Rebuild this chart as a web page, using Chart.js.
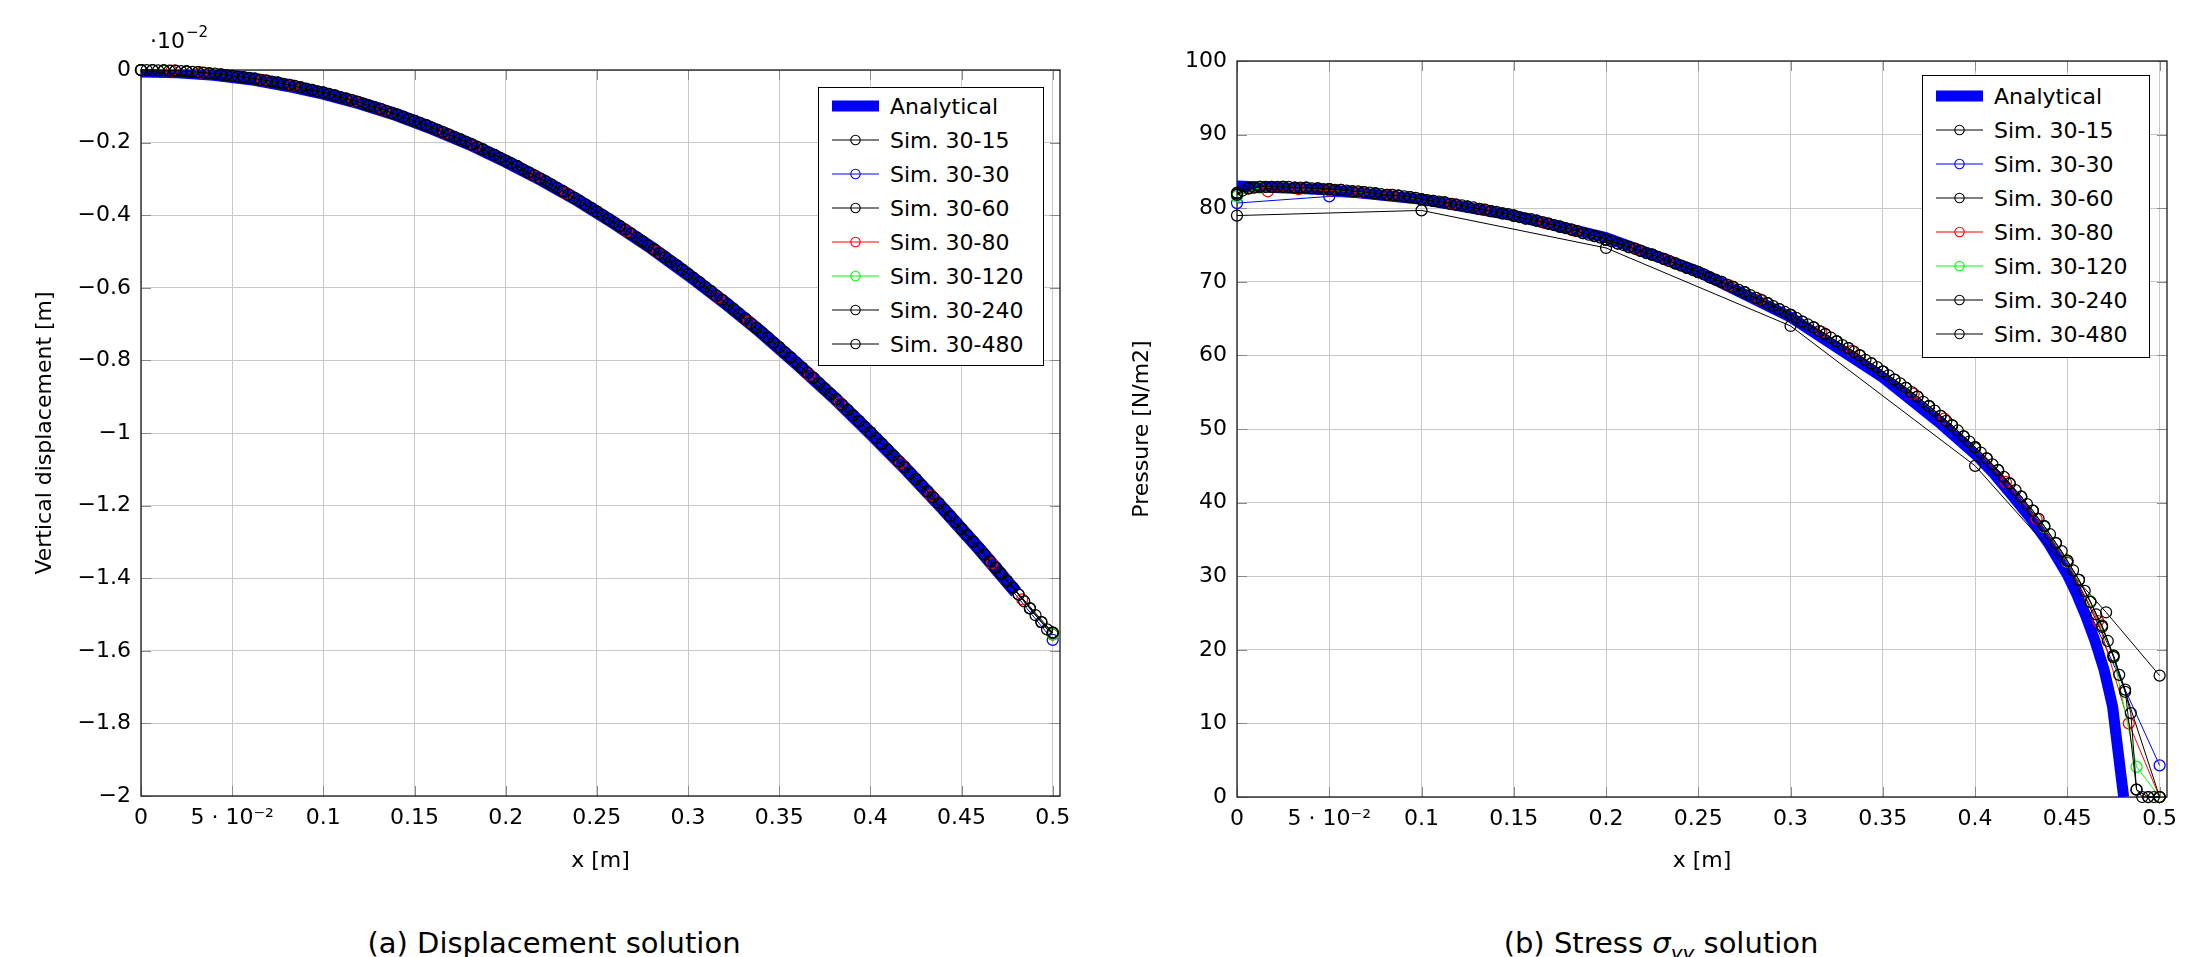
<!DOCTYPE html>
<html>
<head>
<meta charset="utf-8">
<title>Displacement and stress solution</title>
<script src="https://cdn.jsdelivr.net/npm/chart.js@4.4.1/dist/chart.umd.min.js"></script>
<style>
  body { margin: 0; background: #fff; width: 2200px; height: 957px; position: relative; overflow: hidden; font-family: "DejaVu Sans", sans-serif; }
  canvas { position: absolute; top: 0; }
  .legend { position: absolute; border: 1px solid #000; background: #fff; box-sizing: border-box; }
  .legend .row { height: 34px; display: flex; align-items: center; font-size: 22px; color: #000; white-space: nowrap; }
  .legend svg { margin-left: 13px; margin-right: 11px; flex: none; }
  .caption { position: absolute; top: 926px; font-size: 29px; transform: translateX(-50%); white-space: nowrap; color: #000; }
  .caption sub { font-size: 20px; }
</style>
</head>
<body>
<canvas id="disp" width="1100" height="880" style="left:0"></canvas>
<canvas id="press" width="1100" height="880" style="left:1100px"></canvas>
<div class="legend" id="legDisp" style="left:818px; top:87px; width:226px; height:279px; padding-top:1px"></div>
<div class="legend" id="legPress" style="left:1922px; top:75px; width:228px; height:283px; padding-top:3px"></div>
<div class="caption" style="left:554px">(a) Displacement solution</div>
<div class="caption" style="left:1661px">(b) Stress <i>σ</i><sub><i>yy</i></sub> solution</div>

<script>
// series names / colours
const simNames = ['Sim. 30-15', 'Sim. 30-30', 'Sim. 30-60', 'Sim. 30-80', 'Sim. 30-120', 'Sim. 30-240', 'Sim. 30-480'];
const simColors = ['#000000', '#0000ff', '#000000', '#ff0000', '#00ff00', '#000000', '#000000'];

// node positions x [m] of each mesh
const xS15 = [0, 0.1, 0.2, 0.3, 0.4, 0.471, 0.5];
const xS30 = [0, 0.05, 0.1, 0.15, 0.2, 0.25, 0.3, 0.35, 0.4, 0.45, 0.5];
const xS60 = [0, 0.025, 0.05, 0.075, 0.1, 0.125, 0.15, 0.175, 0.2, 0.225, 0.25, 0.275, 0.3, 0.325, 0.35, 0.375, 0.4, 0.425, 0.45, 0.475, 0.5];
const xS80 = [0, 0.0167, 0.0333, 0.05, 0.0667, 0.0833, 0.1, 0.1167, 0.1333, 0.15, 0.1667, 0.1833, 0.2, 0.2167, 0.2333, 0.25,
  0.2667, 0.2833, 0.3, 0.3167, 0.3333, 0.35, 0.3667, 0.3833, 0.4, 0.4167, 0.4333, 0.45, 0.4667, 0.4833, 0.5];
const xS120 = [0, 0.0125, 0.025, 0.0375, 0.05, 0.0625, 0.075, 0.0875, 0.1, 0.1125, 0.125, 0.1375, 0.15, 0.1625, 0.175, 0.1875,
  0.2, 0.2125, 0.225, 0.2375, 0.25, 0.2625, 0.275, 0.2875, 0.3, 0.3125, 0.325, 0.3375, 0.35, 0.3625, 0.375, 0.3875,
  0.4, 0.4125, 0.425, 0.4375, 0.45, 0.4625, 0.475, 0.4875, 0.5];
const xS240 = [0, 0.0063, 0.0125, 0.0188, 0.025, 0.0313, 0.0375, 0.0438,
  0.05, 0.0563, 0.0625, 0.0688, 0.075, 0.0813, 0.0875, 0.0938,
  0.1, 0.1063, 0.1125, 0.1188, 0.125, 0.1313, 0.1375, 0.1438,
  0.15, 0.1563, 0.1625, 0.1688, 0.175, 0.1813, 0.1875, 0.1938,
  0.2, 0.2063, 0.2125, 0.2188, 0.225, 0.2313, 0.2375, 0.2438,
  0.25, 0.2563, 0.2625, 0.2688, 0.275, 0.2813, 0.2875, 0.2938,
  0.3, 0.3063, 0.3125, 0.3188, 0.325, 0.3313, 0.3375, 0.3438,
  0.35, 0.3563, 0.3625, 0.3688, 0.375, 0.3813, 0.3875, 0.3938,
  0.4, 0.4063, 0.4125, 0.4188, 0.425, 0.4313, 0.4375, 0.4438,
  0.45, 0.4563, 0.4625, 0.4688, 0.475, 0.4813, 0.4875, 0.4938,
  0.5];
const xS480 = [0, 0.0031, 0.0063, 0.0094, 0.0125, 0.0156, 0.0188, 0.0219,
  0.025, 0.0281, 0.0313, 0.0344, 0.0375, 0.0406, 0.0438, 0.0469,
  0.05, 0.0531, 0.0563, 0.0594, 0.0625, 0.0656, 0.0688, 0.0719,
  0.075, 0.0781, 0.0813, 0.0844, 0.0875, 0.0906, 0.0938, 0.0969,
  0.1, 0.1031, 0.1063, 0.1094, 0.1125, 0.1156, 0.1188, 0.1219,
  0.125, 0.1281, 0.1313, 0.1344, 0.1375, 0.1406, 0.1438, 0.1469,
  0.15, 0.1531, 0.1563, 0.1594, 0.1625, 0.1656, 0.1688, 0.1719,
  0.175, 0.1781, 0.1813, 0.1844, 0.1875, 0.1906, 0.1938, 0.1969,
  0.2, 0.2031, 0.2063, 0.2094, 0.2125, 0.2156, 0.2188, 0.2219,
  0.225, 0.2281, 0.2313, 0.2344, 0.2375, 0.2406, 0.2438, 0.2469,
  0.25, 0.2531, 0.2563, 0.2594, 0.2625, 0.2656, 0.2688, 0.2719,
  0.275, 0.2781, 0.2813, 0.2844, 0.2875, 0.2906, 0.2938, 0.2969,
  0.3, 0.3031, 0.3063, 0.3094, 0.3125, 0.3156, 0.3188, 0.3219,
  0.325, 0.3281, 0.3313, 0.3344, 0.3375, 0.3406, 0.3438, 0.3469,
  0.35, 0.3531, 0.3563, 0.3594, 0.3625, 0.3656, 0.3688, 0.3719,
  0.375, 0.3781, 0.3813, 0.3844, 0.3875, 0.3906, 0.3938, 0.3969,
  0.4, 0.4031, 0.4063, 0.4094, 0.4125, 0.4156, 0.4188, 0.4219,
  0.425, 0.4281, 0.4313, 0.4344, 0.4375, 0.4406, 0.4438, 0.4469,
  0.45, 0.4531, 0.4563, 0.4594, 0.4625, 0.4656, 0.4688, 0.4719,
  0.475, 0.4781, 0.4813, 0.4844, 0.4875, 0.4906, 0.4938, 0.4969,
  0.5];

// (a) vertical displacement, in units of 1e-2 m
const xAnaDisp = [0, 0.02, 0.04, 0.06, 0.08, 0.1, 0.12, 0.14, 0.16, 0.18, 0.2, 0.22, 0.24, 0.26, 0.28, 0.3, 0.32, 0.34, 0.36, 0.38, 0.4, 0.42, 0.44, 0.46, 0.48];
const anaDisp = [-0.003, -0.005, -0.012, -0.024, -0.042, -0.064, -0.091, -0.123, -0.161, -0.203, -0.251, -0.303, -0.360, -0.423, -0.490, -0.563, -0.640, -0.722, -0.810, -0.902, -1.0, -1.102, -1.209, -1.321, -1.439];
const dS15 = [0, -0.062, -0.250, -0.562, -0.998, -1.384, -1.55];
const dS30 = [0, -0.016, -0.062, -0.140, -0.250, -0.390, -0.562, -0.764, -0.998, -1.264, -1.57];
const dS60 = [0, -0.004, -0.016, -0.035, -0.062, -0.098, -0.140, -0.191, -0.250, -0.316, -0.390, -0.472, -0.562, -0.659, -0.764, -0.878, -0.998, -1.127, -1.264, -1.408, -1.555];
const dS80 = [0, -0.002, -0.007, -0.016, -0.028, -0.043, -0.062, -0.085, -0.111, -0.140, -0.173, -0.210, -0.250, -0.293, -0.340, -0.390,
  -0.444, -0.501, -0.562, -0.626, -0.693, -0.764, -0.839, -0.917, -0.998, -1.083, -1.172, -1.264, -1.359, -1.458, -1.555];
const dS120 = [0, -0.001, -0.004, -0.009, -0.016, -0.024, -0.035, -0.048, -0.062, -0.079, -0.098, -0.118, -0.140, -0.165, -0.191, -0.219,
  -0.250, -0.282, -0.316, -0.352, -0.390, -0.430, -0.472, -0.516, -0.562, -0.609, -0.659, -0.711, -0.764, -0.820, -0.878, -0.937,
  -0.998, -1.062, -1.127, -1.194, -1.264, -1.335, -1.408, -1.483, -1.555];
const dS240 = [0, 0, -0.001, -0.002, -0.004, -0.006, -0.009, -0.012,
  -0.016, -0.020, -0.024, -0.029, -0.035, -0.041, -0.048, -0.055,
  -0.062, -0.070, -0.079, -0.088, -0.098, -0.107, -0.118, -0.129,
  -0.140, -0.152, -0.165, -0.178, -0.191, -0.205, -0.219, -0.234,
  -0.250, -0.265, -0.282, -0.299, -0.316, -0.334, -0.352, -0.371,
  -0.390, -0.410, -0.430, -0.451, -0.472, -0.494, -0.516, -0.538,
  -0.562, -0.585, -0.609, -0.634, -0.659, -0.685, -0.711, -0.737,
  -0.764, -0.792, -0.820, -0.848, -0.878, -0.907, -0.937, -0.967,
  -0.998, -1.030, -1.062, -1.094, -1.127, -1.161, -1.194, -1.229,
  -1.264, -1.299, -1.335, -1.371, -1.408, -1.445, -1.483, -1.521,
  -1.55];
const dS480 = [0, 0, 0, -0.001, -0.001, -0.002, -0.002, -0.003,
  -0.004, -0.005, -0.006, -0.007, -0.009, -0.010, -0.012, -0.014,
  -0.016, -0.018, -0.020, -0.022, -0.024, -0.027, -0.029, -0.032,
  -0.035, -0.038, -0.041, -0.044, -0.048, -0.051, -0.055, -0.059,
  -0.062, -0.066, -0.070, -0.075, -0.079, -0.083, -0.088, -0.093,
  -0.098, -0.102, -0.107, -0.113, -0.118, -0.123, -0.129, -0.135,
  -0.140, -0.146, -0.152, -0.159, -0.165, -0.171, -0.178, -0.184,
  -0.191, -0.198, -0.205, -0.212, -0.219, -0.227, -0.234, -0.242,
  -0.250, -0.257, -0.265, -0.274, -0.282, -0.290, -0.299, -0.307,
  -0.316, -0.325, -0.334, -0.343, -0.352, -0.361, -0.371, -0.380,
  -0.390, -0.400, -0.410, -0.420, -0.430, -0.440, -0.451, -0.461,
  -0.472, -0.483, -0.494, -0.505, -0.516, -0.527, -0.538, -0.550,
  -0.562, -0.573, -0.585, -0.597, -0.609, -0.622, -0.634, -0.646,
  -0.659, -0.672, -0.685, -0.698, -0.711, -0.724, -0.737, -0.751,
  -0.764, -0.778, -0.792, -0.806, -0.820, -0.834, -0.848, -0.863,
  -0.878, -0.892, -0.907, -0.922, -0.937, -0.952, -0.967, -0.983,
  -0.998, -1.014, -1.030, -1.046, -1.062, -1.078, -1.094, -1.111,
  -1.127, -1.144, -1.161, -1.177, -1.194, -1.212, -1.229, -1.246,
  -1.264, -1.281, -1.299, -1.317, -1.335, -1.353, -1.371, -1.389,
  -1.408, -1.426, -1.445, -1.464, -1.483, -1.502, -1.521, -1.541,
  -1.55];

// (b) contact pressure [N/m2]
const xAnaPress = [0, 0.05, 0.1, 0.15, 0.2, 0.25, 0.3, 0.35, 0.38, 0.4, 0.41, 0.42, 0.43, 0.44, 0.45, 0.455, 0.46, 0.465, 0.47, 0.4745, 0.4805];
const anaPress = [83.0, 82.5, 81.2, 79.0, 76.0, 71.4, 65.2, 57.0, 51.0, 46.6, 44.0, 41.0, 37.9, 34.4, 30.2, 27.6, 24.6, 21.2, 17.2, 12.3, 0];
const pS15 = [79.0, 79.7, 74.6, 64.0, 45.0, 25.1, 16.5];
const pS30 = [80.7, 81.6, 81.2, 79.0, 75.7, 71.3, 65.5, 57.8, 47.4, 31.8, 4.3];
const pS60 = [82.1, 82.9, 82.6, 82.0, 81.2, 80.2, 79.0, 77.5, 75.7, 73.7, 71.3, 68.6, 65.5, 61.9, 57.8, 53.1, 47.5, 40.8, 32.0, 19.2, 0];
const pS80 = [81.9, 82.3, 82.6, 82.4, 82.2, 81.8, 81.2, 80.6, 79.8, 79.0, 78.0, 76.9, 75.7, 74.4, 72.9, 71.3,
  69.5, 67.6, 65.5, 63.2, 60.6, 57.8, 54.8, 51.4, 47.5, 42.8, 37.8, 31.9, 23.9, 10.0, 0];
const pS120 = [81.6, 82.8, 82.9, 82.8, 82.6, 82.3, 82.0, 81.7, 81.2, 80.8, 80.2, 79.6, 79.0, 78.3, 77.5, 76.6,
  75.7, 74.7, 73.7, 72.5, 71.3, 70.0, 68.6, 67.1, 65.5, 63.8, 61.9, 60.0, 57.8, 55.6, 53.1, 50.5,
  47.5, 44.4, 40.8, 36.7, 32.0, 26.6, 19.1, 4.1, 0];
const pS240 = [81.8, 82.7, 82.9, 82.9, 82.9, 82.8, 82.8, 82.7,
  82.6, 82.5, 82.3, 82.2, 82.0, 81.8, 81.7, 81.5,
  81.2, 81.0, 80.8, 80.5, 80.2, 79.9, 79.6, 79.3,
  79.0, 78.6, 78.3, 77.9, 77.5, 77.1, 76.6, 76.2,
  75.7, 75.2, 74.7, 74.2, 73.7, 73.1, 72.5, 71.9,
  71.3, 70.6, 70.0, 69.3, 68.6, 67.8, 67.1, 66.3,
  65.5, 64.6, 63.8, 62.9, 61.9, 61.0, 60.0, 58.9,
  57.8, 56.7, 55.6, 54.4, 53.1, 51.8, 50.5, 49.0,
  47.5, 46.0, 44.4, 42.6, 40.8, 38.9, 36.8, 34.5,
  32.1, 29.5, 26.5, 23.3, 19.2, 14.6, 1.0, 0,
  0];
const pS480 = [82.0, 82.4, 82.7, 82.8, 82.9, 82.9, 82.9, 82.9,
  82.9, 82.9, 82.8, 82.8, 82.8, 82.7, 82.7, 82.6,
  82.6, 82.5, 82.5, 82.4, 82.3, 82.3, 82.2, 82.1,
  82.0, 81.9, 81.8, 81.8, 81.7, 81.6, 81.5, 81.4,
  81.2, 81.1, 81.0, 80.9, 80.8, 80.6, 80.5, 80.4,
  80.2, 80.1, 79.9, 79.8, 79.6, 79.5, 79.3, 79.2,
  79.0, 78.8, 78.6, 78.5, 78.3, 78.1, 77.9, 77.7,
  77.5, 77.3, 77.1, 76.9, 76.6, 76.4, 76.2, 76.0,
  75.7, 75.5, 75.2, 75.0, 74.7, 74.5, 74.2, 73.9,
  73.7, 73.4, 73.1, 72.8, 72.5, 72.2, 71.9, 71.6,
  71.3, 71.0, 70.6, 70.3, 70.0, 69.6, 69.3, 68.9,
  68.6, 68.2, 67.8, 67.5, 67.1, 66.7, 66.3, 65.9,
  65.5, 65.1, 64.6, 64.2, 63.8, 63.3, 62.9, 62.4,
  61.9, 61.4, 61.0, 60.5, 60.0, 59.4, 58.9, 58.4,
  57.8, 57.3, 56.7, 56.2, 55.6, 55.0, 54.4, 53.7,
  53.1, 52.5, 51.8, 51.1, 50.5, 49.8, 49.0, 48.3,
  47.5, 46.8, 46.0, 45.2, 44.4, 43.5, 42.6, 41.7,
  40.8, 39.8, 38.9, 37.8, 36.8, 35.7, 34.5, 33.4,
  32.1, 30.8, 29.5, 28.0, 26.5, 24.8, 23.1, 21.2,
  19.0, 16.6, 14.3, 11.4, 1.0, 0, 0, 0,
  0];

const simX = [xS15, xS30, xS60, xS80, xS120, xS240, xS480];
const simDisp = [dS15, dS30, dS60, dS80, dS120, dS240, dS480];
const simPress = [pS15, pS30, pS60, pS80, pS120, pS240, pS480];

Chart.defaults.font.family = '"DejaVu Sans", sans-serif';
Chart.defaults.font.size = 22;
Chart.defaults.color = '#000';

function pts(xs, ys) {
  return xs.map((x, i) => ({ x: x, y: ys[i] }));
}

function buildDatasets(xAna, yAna, anaWidth, simY) {
  const sets = [{
    label: 'Analytical',
    data: pts(xAna, yAna),
    showLine: true,
    borderColor: '#0000ff',
    borderWidth: anaWidth,
    borderJoinStyle: 'round',
    pointRadius: 0,
    order: 100
  }];
  simNames.forEach((name, i) => {
    sets.push({
      label: name,
      data: pts(simX[i], simY[i]),
      showLine: true,
      borderColor: simColors[i],
      borderWidth: 1,
      pointStyle: 'circle',
      pointRadius: 5.5,
      pointBorderWidth: 1.25,
      pointBorderColor: simColors[i],
      pointBackgroundColor: 'rgba(0,0,0,0)',
      clip: false,
      order: 10 - i
    });
  });
  return sets;
}

// plot box and inward ticks like pgfplots
const frame = {
  id: 'frame',
  beforeDatasetsDraw(chart) {
    const { ctx, chartArea: a, scales } = chart;
    ctx.save();
    ctx.strokeStyle = '#8a8a8a';
    ctx.lineWidth = 1;
    ctx.beginPath();
    scales.x.ticks.forEach(t => {
      const px = Math.round(scales.x.getPixelForValue(t.value)) + 0.5;
      ctx.moveTo(px, a.bottom); ctx.lineTo(px, a.bottom - 10);
      ctx.moveTo(px, a.top); ctx.lineTo(px, a.top + 10);
    });
    scales.y.ticks.forEach(t => {
      const py = Math.round(scales.y.getPixelForValue(t.value)) + 0.5;
      ctx.moveTo(a.left, py); ctx.lineTo(a.left + 10, py);
      ctx.moveTo(a.right, py); ctx.lineTo(a.right - 10, py);
    });
    ctx.stroke();
    ctx.strokeStyle = '#1a1a1a';
    ctx.lineWidth = 1.3;
    ctx.strokeRect(a.left, a.top, a.right - a.left, a.bottom - a.top);
    ctx.restore();
  }
};

// "·10^-2" scale note above the y axis of (a)
const scaleNote = {
  id: 'scaleNote',
  afterDraw(chart) {
    if (!chart.options.scaleNote) return;
    const { ctx, chartArea: a } = chart;
    ctx.save();
    ctx.fillStyle = '#000';
    ctx.textBaseline = 'alphabetic';
    ctx.font = '22px "DejaVu Sans"';
    ctx.fillText('·10', a.left + 9, 48);
    const w = ctx.measureText('·10').width;
    ctx.font = '15px "DejaVu Sans"';
    ctx.fillText('−2', a.left + 10 + w, 37);
    ctx.restore();
  }
};

function xLabel(v) {
  const r = Math.round(v * 100) / 100;
  return r === 0.05 ? '5 · 10⁻²' : String(r);
}

function makeChart(id, cfg) {
  return new Chart(document.getElementById(id), {
    type: 'scatter',
    data: { datasets: cfg.datasets },
    options: {
      responsive: false,
      animation: false,
      events: [],
      scaleNote: cfg.scaleNote,
      layout: { padding: { left: 0, top: cfg.top, right: cfg.right, bottom: 0 } },
      plugins: { legend: { display: false }, tooltip: { enabled: false } },
      scales: {
        x: {
          type: 'linear', min: 0, max: 0.504,
          afterFit: s => { s.height = cfg.xh; },
          grid: { color: '#c8c8c8', lineWidth: 1, drawTicks: false },
          border: { display: false },
          ticks: { stepSize: 0.05, includeBounds: false, padding: 9, maxRotation: 0, autoSkip: false, callback: xLabel },
          title: { display: true, text: 'x [m]', font: { size: 22 }, padding: { top: 0, bottom: 6 } }
        },
        y: {
          type: 'linear', min: cfg.ymin, max: cfg.ymax,
          afterFit: s => { s.width = cfg.yw; },
          grid: { color: '#c8c8c8', lineWidth: 1, drawTicks: false },
          border: { display: false },
          ticks: { stepSize: cfg.ystep, includeBounds: false, padding: 10, autoSkip: false, callback: cfg.yLabel },
          title: { display: true, text: cfg.ytitle, font: { size: 22 }, padding: { top: cfg.ytitlePad, bottom: 0 } }
        }
      }
    },
    plugins: [frame, scaleNote]
  });
}

makeChart('disp', {
  datasets: buildDatasets(xAnaDisp, anaDisp, 13, simDisp),
  top: 70, right: 40, xh: 84, yw: 141,
  ymin: -2, ymax: 0, ystep: 0.2,
  yLabel: v => { const r = Math.round(v * 10) / 10; return r === 0 ? '0' : (r < 0 ? '−' + Math.abs(r) : String(r)); },
  ytitle: 'Vertical displacement [m]', ytitlePad: 32,
  scaleNote: true
});

makeChart('press', {
  datasets: buildDatasets(xAnaPress, anaPress, 11, simPress),
  top: 61, right: 33, xh: 83, yw: 137,
  ymin: 0, ymax: 100, ystep: 10,
  yLabel: v => String(Math.round(v)),
  ytitle: 'Pressure [N/m2]', ytitlePad: 29,
  scaleNote: false
});

// legends drawn as html boxes inside the plots
function buildLegend(id) {
  const box = document.getElementById(id);
  const rows = [{ name: 'Analytical', color: '#0000ff', ana: true }]
    .concat(simNames.map((n, i) => ({ name: n, color: simColors[i], ana: false })));
  rows.forEach(r => {
    const row = document.createElement('div');
    row.className = 'row';
    const sym = r.ana
      ? '<svg width="47" height="14"><rect x="0" y="1.5" width="47" height="11" fill="' + r.color + '"/></svg>'
      : '<svg width="47" height="14"><line x1="0" y1="7" x2="47" y2="7" stroke="' + r.color + '" stroke-width="1.2"/>' +
        '<circle cx="23.5" cy="7" r="4.7" fill="none" stroke="' + r.color + '" stroke-width="1.1"/></svg>';
    row.innerHTML = sym + '<span>' + r.name + '</span>';
    box.appendChild(row);
  });
}
buildLegend('legDisp');
buildLegend('legPress');
</script>
</body>
</html>
